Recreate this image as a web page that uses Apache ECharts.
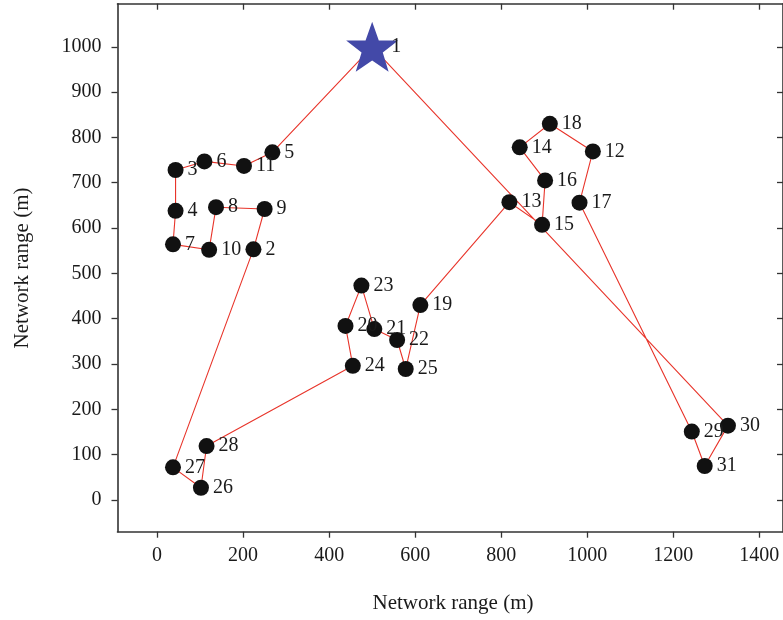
<!DOCTYPE html>
<html>
<head>
<meta charset="utf-8">
<script src="https://cdn.jsdelivr.net/npm/echarts@6/dist/echarts.min.js"></script>
<style>
html,body{margin:0;padding:0;background:#fff;}
#chart{width:783px;height:620px;}
</style>
</head>
<body>
<div id="chart"></div>
<script>
// Node identifiers and coordinates (m)
const nodeIds = [1,2,3,4,5,6,7,8,9,10,11,12,13,14,15,16,17,18,19,20,21,22,23,24,25,26,27,28,29,30,31];
const nodeX = [500,224,43,43,268,110,37,137,250,121,202,1013,819,843,895,902,982,913,612,438,505,558,475,455,578,102,37,115,1243,1327,1273];
const nodeY = [1000,553,728,638,767,747,564,646,642,552,737,769,657,778,607,705,656,830,430,384,377,353,473,296,289,27,72,119,151,164,75];
// Visiting order of the route (closed tour)
const tour = [1,5,11,6,3,4,7,10,8,9,2,27,26,28,24,20,23,21,22,25,19,13,15,16,14,18,12,17,29,31,30,1];
// Tick values
const xTicks = [0,200,400,600,800,1000,1200,1400];
const yTicks = [0,100,200,300,400,500,600,700,800,900,1000];
const axisTitle = 'Network range (m)';

const FONT = 'Liberation Serif';
const TXT = '#1a1a1a';

const routeData = tour.map(id => [nodeX[id-1], nodeY[id-1]]);
const sinkData = [[nodeX[0], nodeY[0], nodeIds[0]]];
const nodeData = nodeIds.slice(1).map((id, i) => [nodeX[i+1], nodeY[i+1], id]);

const chart = echarts.init(document.getElementById('chart'), null, {renderer:'canvas'});
const axisLineStyle = {color:'#333', width:1.6};
const tickStyle = {color:'#333', width:1.3};
const plain = v => String(v);
chart.setOption({
  animation:false,
  backgroundColor:'#fff',
  grid:{left:117.5, top:3.7, width:670, height:528, containLabel:false},
  xAxis:[
    {type:'value', position:'bottom', min:-92, max:1455,
     splitLine:{show:false},
     axisLine:{show:true, onZero:false, lineStyle:axisLineStyle},
     axisTick:{show:true, inside:false, length:6, customValues:xTicks, lineStyle:tickStyle},
     axisLabel:{show:true, margin:14, customValues:xTicks, formatter:plain, fontFamily:FONT, fontSize:20, color:TXT}},
    {type:'value', position:'top', min:-92, max:1455,
     splitLine:{show:false},
     axisLine:{show:true, onZero:false, lineStyle:axisLineStyle},
     axisTick:{show:true, inside:true, length:6, customValues:xTicks, lineStyle:tickStyle},
     axisLabel:{show:false}}
  ],
  yAxis:[
    {type:'value', position:'left', min:-70, max:1095,
     splitLine:{show:false},
     axisLine:{show:true, onZero:false, lineStyle:axisLineStyle},
     axisTick:{show:true, inside:false, length:6, customValues:yTicks, lineStyle:tickStyle},
     axisLabel:{show:true, margin:16, customValues:yTicks, formatter:plain, fontFamily:FONT, fontSize:20, color:TXT}},
    {type:'value', position:'right', min:-70, max:1095,
     splitLine:{show:false},
     axisLine:{show:true, onZero:false, lineStyle:axisLineStyle},
     axisTick:{show:true, inside:true, length:6, customValues:yTicks, lineStyle:tickStyle},
     axisLabel:{show:false}}
  ],
  graphic:[
    {type:'text', x:453, y:603, style:{text:axisTitle, fontFamily:FONT, fontSize:21, fill:TXT, align:'center', verticalAlign:'middle'}},
    {type:'text', x:22, y:268, rotation:Math.PI/2, style:{text:axisTitle, fontFamily:FONT, fontSize:21, fill:TXT, align:'center', verticalAlign:'middle'}}
  ],
  series:[
    {type:'line', data:routeData, symbol:'none', silent:true, z:1,
     lineStyle:{color:'#e8342a', width:1.1}},
    {type:'scatter', data:nodeData, symbol:'circle', symbolSize:16, z:3,
     itemStyle:{color:'#111', opacity:1},
     label:{show:true, position:'right', distance:4, formatter:p=>String(p.value[2]),
            fontFamily:FONT, fontSize:20, color:TXT}},
    {type:'scatter', data:sinkData, symbol:'path://M50,0 L62.5,35 L99,35 L70,57 L81,93 L50,72 L19,93 L30,57 L1,35 L37.5,35 Z', symbolSize:[52,50], z:4,
     itemStyle:{color:'#4349a8', opacity:1},
     label:{show:true, position:[45,25], align:'left', verticalAlign:'middle', formatter:p=>String(p.value[2]),
            fontFamily:FONT, fontSize:20, color:TXT}}
  ]
});
</script>
</body>
</html>
